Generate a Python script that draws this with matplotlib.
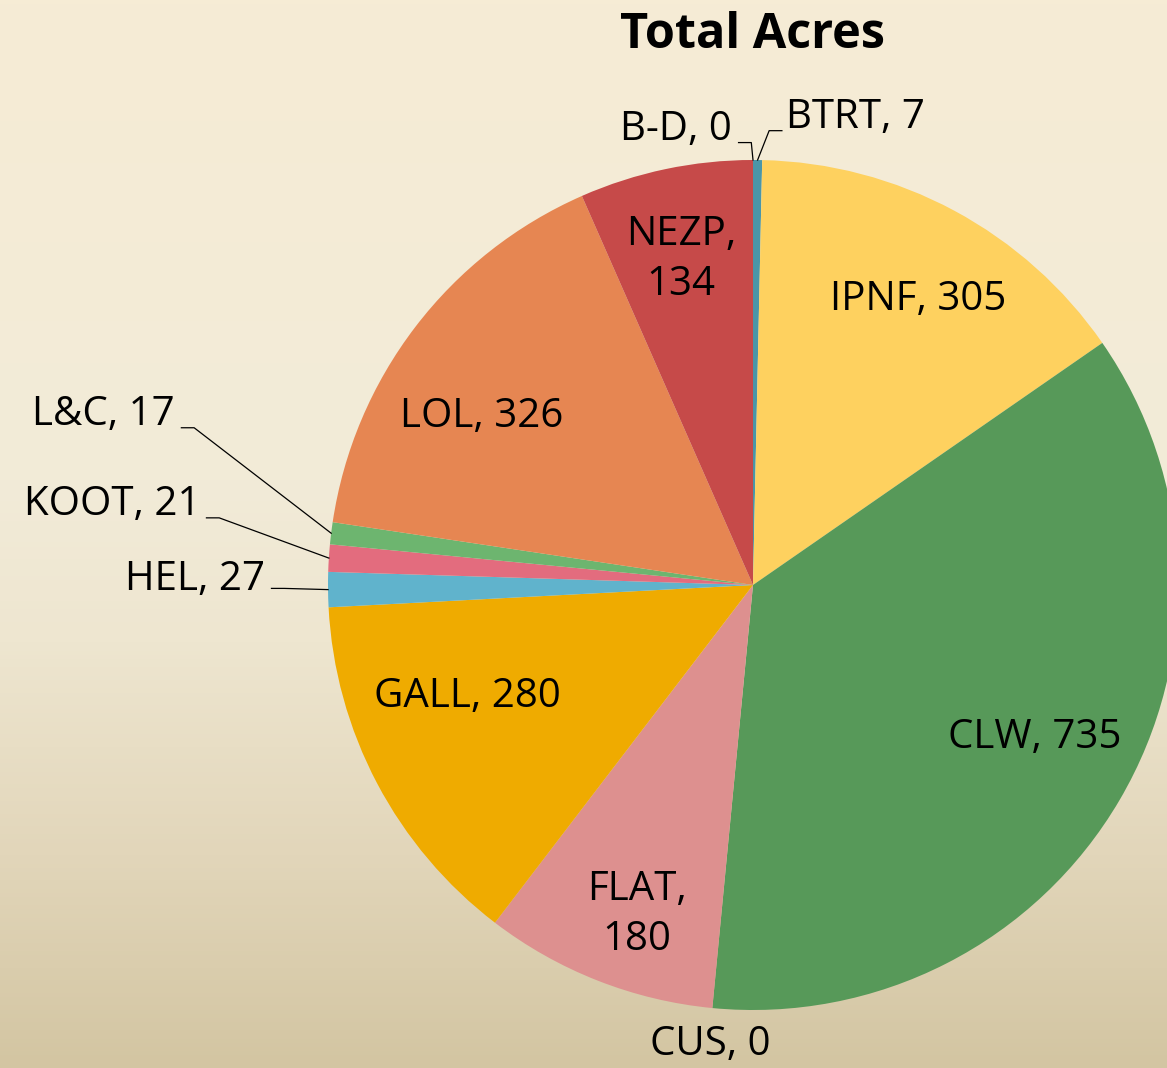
import numpy as np
import matplotlib.pyplot as plt
from matplotlib.colors import LinearSegmentedColormap

# data
names = ["BTRT", "IPNF", "CLW", "CUS", "FLAT", "GALL", "HEL", "KOOT", "L&C", "LOL", "NEZP", "B-D"]
acres = [7, 305, 735, 0, 180, 280, 27, 21, 17, 326, 134, 0]
colors = ["#4A96A8", "#FED15F", "#579959", "#579959", "#DD908F", "#EFAB00",
          "#60B3CC", "#E36C7E", "#6DB56F", "#E68652", "#C64A49", "#C64A49"]

# label placement (data coords, pie radius = 1), alignment, and whether a leader is drawn
label_pos = {
    "BTRT": (0.078, 1.099, "left", True),
    "IPNF": (0.388, 0.671, "center", False),
    "CLW": (0.664, -0.36, "center", False),
    "CUS": (-0.101, -1.082, "center", False),
    "FLAT": (-0.273, -0.776, "center", False),
    "GALL": (-0.671, -0.264, "center", False),
    "HEL": (-1.148, 0.012, "right", True),
    "KOOT": (-1.301, 0.188, "right", True),
    "L&C": (-1.36, 0.40, "right", True),
    "LOL": (-0.638, 0.395, "center", False),
    "NEZP": (-0.169, 0.765, "center", False),
    "B-D": (-0.049, 1.071, "right", True),
}
wrap = {"FLAT", "NEZP"}

W, H = 1167, 1068
cx, cy, R = 753, 585, 425

fig = plt.figure(figsize=(W / 100, H / 100), dpi=100)

# gradient background
bg = fig.add_axes([0, 0, 1, 1])
bg.axis("off")
cmap = LinearSegmentedColormap.from_list(
    "bg", [(0.0, "#F6ECD5"), (0.45, "#F2EBD8"), (0.6, "#EEE6D0"),
           (0.8, "#E2D6BA"), (1.0, "#D3C5A2")])
grad = np.linspace(0, 1, 256).reshape(-1, 1)
bg.imshow(grad, cmap=cmap, aspect="auto", extent=[0, 1, 0, 1])

ax = fig.add_axes([0, 0, 1, 1])
ax.axis("off")
wedges, _ = ax.pie(acres, colors=colors, startangle=90, counterclock=False,
                   radius=1.0, wedgeprops=dict(linewidth=0))
ax.set_xlim(-cx / R, (W - cx) / R)
ax.set_ylim(-(H - cy) / R, cy / R)
ax.set_aspect("equal")

font = "Open Sans"
for w, name, val in zip(wedges, names, acres):
    x, y, ha, leader = label_pos[name]
    sep = ",\n" if name in wrap else ", "
    ax.text(x, y, f"{name}{sep}{val}", ha=ha, va="center", fontsize=29,
            family=font, color="black", linespacing=1.3)
    if leader:
        mid = np.deg2rad((w.theta1 + w.theta2) / 2)
        ex, ey = np.cos(mid), np.sin(mid)
        if ha == "left":
            x0 = x - 0.01
            x1 = x0 - 0.03
        else:
            x0 = x + 0.015
            x1 = x0 + 0.03
        ly = y - 0.03
        if name == "HEL":
            ly = y - 0.02
        ax.plot([x0, x1, ex], [ly, ly, ey], color="black", lw=0.9)

fig.text(cx / W, 1 - 36 / H, "Total Acres", ha="center", va="center",
         fontsize=35, fontweight="bold", family=font)

fig.savefig("out.png", dpi=100)
